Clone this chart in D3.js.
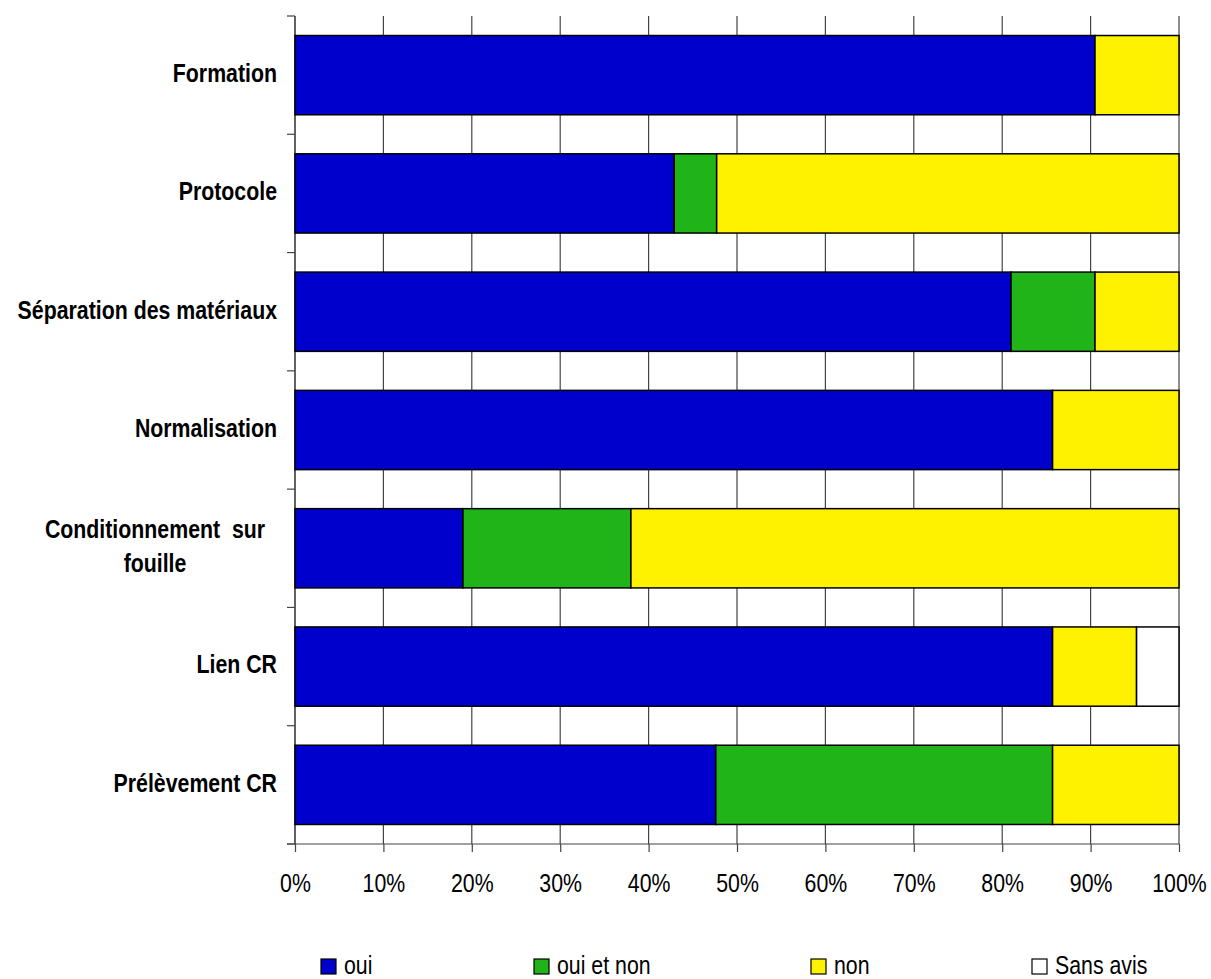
<!DOCTYPE html>
<html><head><meta charset="utf-8">
<script src="https://cdn.jsdelivr.net/npm/d3@7"></script>
<style>
html,body{margin:0;padding:0;background:#fff;}
svg text{font-family:"Liberation Sans","Arial",sans-serif;fill:#000;white-space:pre;}
</style></head>
<body>
<svg id="chart" width="1211" height="979"></svg>
<script>
const categories = ["Formation","Protocole","Séparation des matériaux","Normalisation","Conditionnement  sur\nfouille","Lien CR","Prélèvement CR"];
const seriesNames = ["oui","oui et non","non","Sans avis"];
const oui      = [90.5, 42.9, 81.0, 85.7, 19.0, 85.7, 47.6];
const ouiEtNon = [0,    4.8,  9.5,  0,    19.0, 0,    38.1];
const non      = [9.5,  52.3, 9.5,  14.3, 62.0, 9.5,  14.3];
const sansAvis = [0,    0,    0,    0,    0,    4.8,  0];
const xTicks = [0,10,20,30,40,50,60,70,80,90,100];
const colors = ["#0000CC","#20B418","#FFF200","#FFFFFF"];
const NARROW = 0.82;

const svg = d3.select("#chart");
const m = {left:295, top:16, right:1211-1179, bottom:979-844};
const W = 1211 - m.left - m.right, H = 979 - m.top - m.bottom;
const g = svg.append("g").attr("transform",`translate(${m.left},${m.top})`);

const rows = categories.map((c,i)=>({cat:c, "oui":oui[i], "oui et non":ouiEtNon[i], "non":non[i], "Sans avis":sansAvis[i]}));
const stack = d3.stack().keys(seriesNames)(rows);

const x = d3.scaleLinear().domain([0,100]).range([0,W]);
const y = d3.scaleBand().domain(categories).range([0,H]).paddingInner(0.33).paddingOuter(0.165);
const color = d3.scaleOrdinal().domain(seriesNames).range(colors);

// gridlines
g.append("g").selectAll("line").data(xTicks).join("line")
  .attr("x1",d=>x(d)).attr("x2",d=>x(d)).attr("y1",0).attr("y2",H)
  .attr("stroke","#444").attr("stroke-width",1.2);

// x axis
const xa = g.append("g").attr("transform",`translate(0,${H})`)
  .call(d3.axisBottom(x).tickValues(xTicks).tickFormat(d=>d+"%").tickSize(8).tickPadding(0));
xa.select(".domain").remove();
xa.selectAll(".tick line").attr("stroke","#444").attr("stroke-width",1.2);
xa.selectAll("text").attr("font-size",26).attr("y",0).attr("dy",null)
  .attr("dominant-baseline","middle")
  .attr("transform",`translate(0,41) scale(${NARROW},1)`);
g.append("line").attr("x1",-8).attr("x2",W).attr("y1",H).attr("y2",H).attr("stroke","#444").attr("stroke-width",1.2);

// y axis line + ticks at band boundaries
g.append("line").attr("x1",0).attr("x2",0).attr("y1",0).attr("y2",H).attr("stroke","#444").attr("stroke-width",1.2);
const bounds = d3.range(categories.length+1).map(i=>i*y.step());
g.append("g").selectAll("line").data(bounds).join("line")
  .attr("x1",-8).attr("x2",0).attr("y1",d=>d).attr("y2",d=>d).attr("stroke","#444").attr("stroke-width",1.2);

// bars
g.append("g").selectAll("g").data(stack).join("g")
  .attr("fill",d=>color(d.key))
  .selectAll("rect").data(d=>d.filter(s=>s[1]-s[0]>0)).join("rect")
  .attr("x",d=>x(d[0])).attr("width",d=>x(d[1])-x(d[0]))
  .attr("y",d=>y(d.data.cat)).attr("height",y.bandwidth())
  .attr("stroke","#000").attr("stroke-width",1.5);

// category labels
g.append("g").selectAll("g").data(categories).join("g")
  .each(function(d){
    const lines = d.split("\n");
    const cy = y(d)+y.bandwidth()/2;
    const multi = lines.length>1;
    lines.forEach((ln,k)=>{
      const yy = cy+(k-(lines.length-1)/2)*34;
      d3.select(this).append("text")
        .attr("transform",`translate(${multi?-140:-18},${yy}) scale(${NARROW},1)`)
        .attr("text-anchor",multi?"middle":"end")
        .attr("dominant-baseline","middle")
        .attr("font-size",26).attr("font-weight","bold")
        .text(ln);
    });
  });

// legend
const legendX = [321,534,811,1032];
const lg = svg.append("g").selectAll("g").data(seriesNames).join("g")
  .attr("transform",(d,i)=>`translate(${legendX[i]},959)`);
lg.append("rect").attr("width",15).attr("height",15).attr("fill",d=>color(d)).attr("stroke","#000").attr("stroke-width",1.2);
lg.append("text").attr("transform",`translate(23,8) scale(${NARROW},1)`)
  .attr("dominant-baseline","middle").attr("font-size",26).text(d=>d);
</script>
</body></html>
